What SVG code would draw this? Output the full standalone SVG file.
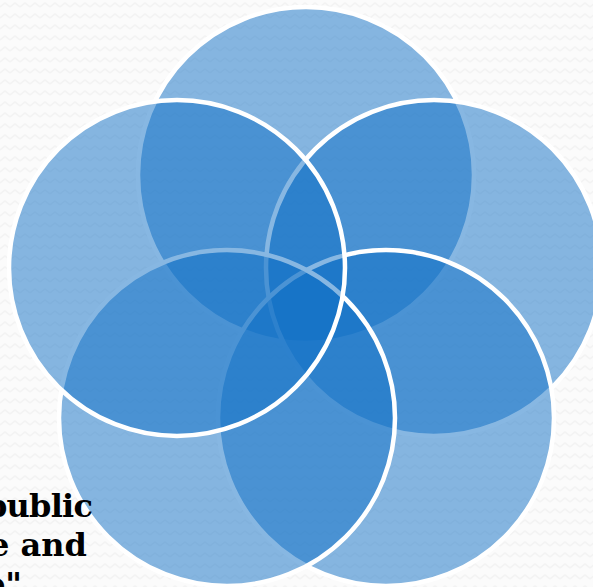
<svg xmlns="http://www.w3.org/2000/svg" width="593" height="587" viewBox="0 0 593 587">
  <style>
    .c { fill: #0F6FC6; fill-opacity: 0.5; stroke: #FFFFFF; stroke-width: 4.5; }
    .t { font-family: "DejaVu Serif", "Liberation Serif", serif; font-weight: bold; font-size: 32px; fill: #000000; }
  </style>
  <defs>
    <pattern id="bg" x="0" y="0" width="10" height="11" patternUnits="userSpaceOnUse">
      <rect width="10" height="11" fill="#FBFBFB"/>
      <polyline points="0,7 5,3 10,7" fill="none" stroke="#F3F3F3" stroke-width="1.5"/>
    </pattern>
  </defs>
  <rect id="background" x="0" y="0" width="593" height="587" fill="url(#bg)"/>
  <g id="circles">
    <g id="circle-top"><circle class="c" cx="306" cy="175" r="168"/></g>
    <g id="circle-upper-right"><circle class="c" cx="434" cy="268" r="168"/></g>
    <g id="circle-lower-right"><circle class="c" cx="386" cy="418" r="168"/></g>
    <g id="circle-lower-left"><circle class="c" cx="227" cy="418" r="168"/></g>
    <g id="circle-upper-left"><circle class="c" cx="177" cy="268" r="168"/></g>
  </g>
  <g id="caption">
    <text class="t" x="-15" y="517" textLength="108" lengthAdjust="spacing">public</text>
    <text class="t" x="-11" y="556">e and</text>
    <text class="t" x="-16" y="595">o"</text>
  </g>
</svg>
